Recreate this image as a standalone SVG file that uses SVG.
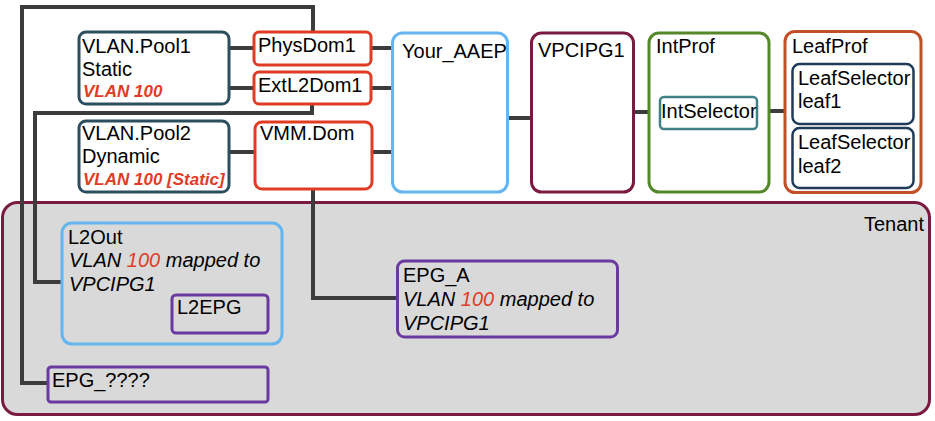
<svg xmlns="http://www.w3.org/2000/svg" width="935" height="421" viewBox="0 0 935 421">
<style>
text{font-family:"Liberation Sans",Arial,Helvetica,sans-serif;font-size:20px;fill:#000}
.b{fill:#fff;stroke-width:3}
.pool{stroke:#2C4F5E}
.dom{stroke:#E03C25}
.aaep{stroke:#64B5F0}
.mar{stroke:#7A1A40}
.int{stroke:#55872A}
.isel{stroke:#3F7F86}
.leaf{stroke:#C05028}
.lsel{stroke:#1F3B57}
.epg{stroke:#6B3AA0}
.red{fill:#E03C25}
.bi{font-size:17px;font-weight:bold;font-style:italic}
.it{font-style:italic}
.conn path{fill:none;stroke:#3C3C3C;stroke-width:4}
</style>
<g id="tenant">
<rect x="2.5" y="202.5" width="927" height="212" rx="15" fill="#D9D9D9" stroke="#7A1A40" stroke-width="3"/>
<text x="924" y="231" text-anchor="end">Tenant</text>
</g>
<g class="conn" id="connectors">
<path d="M47,383 H22 V7 H313 V31"/>
<path d="M312,104 V113 H35 V282 H61"/>
<path d="M229,48 H253"/>
<path d="M229,88 H253"/>
<path d="M229,152 H254"/>
<path d="M371,48 H392"/>
<path d="M371,88 H392"/>
<path d="M372,152 H392"/>
<path d="M508,118 H531"/>
<path d="M634,112 H660"/>
<path d="M758,111 H784"/>
<path d="M313,189 V298 H397"/>
</g>
<g id="pool1">
<rect class="b pool" x="79" y="32" width="150" height="72" rx="7"/>
<text x="82" y="53">VLAN.Pool1</text>
<text x="82" y="76">Static</text>
<text x="83" y="97" class="bi red">VLAN 100</text>
</g>
<g id="pool2">
<rect class="b pool" x="79" y="121" width="150" height="71" rx="7"/>
<text x="82" y="140">VLAN.Pool2</text>
<text x="82" y="163">Dynamic</text>
<text x="83" y="185" class="bi red">VLAN 100 [Static]</text>
</g>
<g id="physdom1">
<rect class="b dom" x="254" y="32" width="117" height="33" rx="5"/>
<text x="258" y="52">PhysDom1</text>
</g>
<g id="extl2dom1">
<rect class="b dom" x="254" y="72" width="117" height="32" rx="5"/>
<text x="258" y="92">ExtL2Dom1</text>
</g>
<g id="vmmdom">
<rect class="b dom" x="255" y="122" width="117" height="67" rx="7"/>
<text x="260" y="140">VMM.Dom</text>
</g>
<g id="aaep">
<rect class="b aaep" x="392.5" y="33" width="115" height="159" rx="10"/>
<text x="402" y="58">Your_AAEP</text>
</g>
<g id="vpcipg1">
<rect class="b mar" x="531.5" y="33" width="102" height="159" rx="10"/>
<text x="538" y="57">VPCIPG1</text>
</g>
<g id="intprof">
<rect class="b int" x="649" y="33" width="120" height="159" rx="10"/>
<text x="656" y="53">IntProf</text>
</g>
<g id="intselector">
<rect x="660" y="97" width="97" height="32" rx="4" fill="#fff" stroke="#3F7F86" stroke-width="2.5"/>
<text x="661" y="118">IntSelector</text>
</g>
<g id="leafprof">
<rect class="b leaf" x="785" y="31.5" width="136" height="161" rx="10"/>
<text x="792" y="53">LeafProf</text>
</g>
<g id="leafsel1">
<rect x="792.5" y="64" width="121" height="60" rx="7" fill="#fff" stroke="#1F3B57" stroke-width="2.5"/>
<text x="798" y="85">LeafSelector</text>
<text x="798" y="108">leaf1</text>
</g>
<g id="leafsel2">
<rect x="792.5" y="128" width="121" height="60" rx="7" fill="#fff" stroke="#1F3B57" stroke-width="2.5"/>
<text x="798" y="149">LeafSelector</text>
<text x="798" y="173">leaf2</text>
</g>
<g id="l2out">
<rect x="62" y="223" width="220" height="121" rx="10" fill="none" stroke="#64B5F0" stroke-width="3"/>
<text x="68" y="244">L2Out</text>
<text x="69" y="267" class="it">VLAN <tspan class="red">100</tspan> mapped to</text>
<text x="69" y="291" class="it">VPCIPG1</text>
</g>
<g id="l2epg">
<rect x="172" y="295" width="96" height="38" rx="4" fill="none" stroke="#6B3AA0" stroke-width="3"/>
<text x="177" y="314">L2EPG</text>
</g>
<g id="epga">
<rect x="397.5" y="261" width="220" height="76" rx="7" fill="none" stroke="#6B3AA0" stroke-width="3"/>
<text x="403" y="282">EPG_A</text>
<text x="403" y="306" class="it">VLAN <tspan class="red">100</tspan> mapped to</text>
<text x="403" y="330" class="it">VPCIPG1</text>
</g>
<g id="epgq">
<rect x="48" y="367" width="220" height="35" rx="3" fill="none" stroke="#6B3AA0" stroke-width="3"/>
<text x="52" y="387">EPG_????</text>
</g>
</svg>
